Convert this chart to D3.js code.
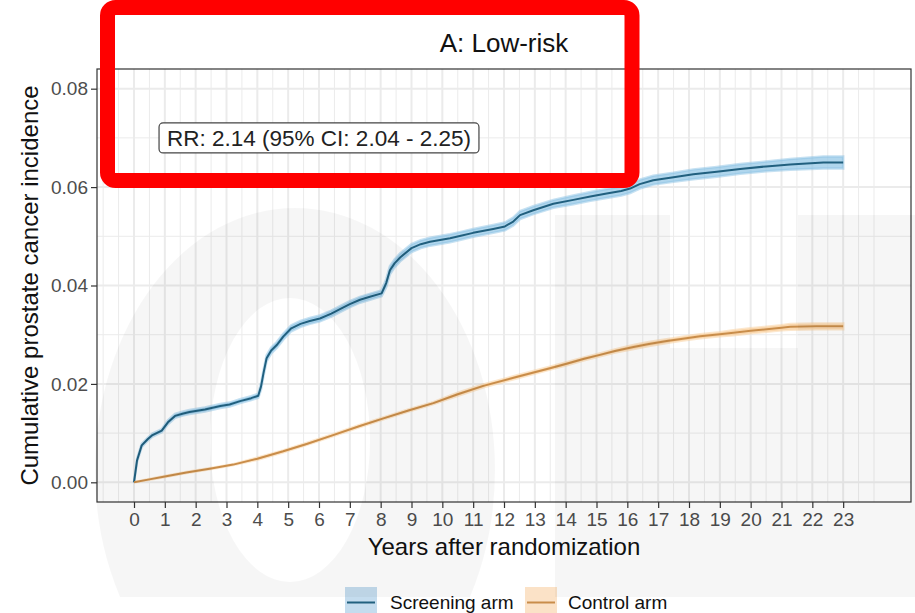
<!DOCTYPE html>
<html>
<head>
<meta charset="utf-8">
<script src="https://cdn.jsdelivr.net/npm/d3@7"></script>
<style>
  html, body { margin: 0; padding: 0; background: #fff; }
  svg text { font-family: "Liberation Sans", Arial, Helvetica, sans-serif; }
</style>
</head>
<body>
<div id="chart"></div>
<script>
// --- data ---
const screeningYears = [0, 0.1, 0.25, 0.45, 0.6, 0.9, 1.1, 1.33, 1.6, 1.8, 2.3, 2.8, 3.1, 3.44, 3.8, 4.03,
  4.12, 4.2, 4.3, 4.45, 4.63, 4.84, 5.1, 5.4, 5.7, 6.03, 6.4, 6.68, 7.0, 7.33, 7.65, 8.03,
  8.18, 8.3, 8.45, 8.63, 9.0, 9.3, 9.6, 10.25, 10.6, 11.0, 11.65, 12.03, 12.3, 12.52, 12.95, 13.6,
  14.25, 14.8, 15.33, 15.8, 16.09, 16.4, 16.84, 17.5, 18.14, 18.9, 19.66, 20.5, 21.28, 22.36, 23.0];
const screeningIncidence = [0, 0.0045, 0.0075, 0.0088, 0.0096, 0.0105, 0.0122, 0.0135, 0.0140, 0.0143, 0.0148, 0.0155, 0.0158, 0.0165, 0.0171, 0.0176,
  0.0195, 0.0222, 0.0252, 0.0268, 0.0279, 0.0296, 0.0313, 0.0322, 0.0328, 0.0333, 0.0343, 0.0352, 0.0362, 0.0371, 0.0377, 0.0384,
  0.0405, 0.0431, 0.0445, 0.0457, 0.0476, 0.0484, 0.0489, 0.0496, 0.0501, 0.0507, 0.0515, 0.0520, 0.0530, 0.0543, 0.0553, 0.0566,
  0.0574, 0.0581, 0.0587, 0.0592, 0.0597, 0.0606, 0.0614, 0.0620, 0.0626, 0.0631, 0.0637, 0.0642, 0.0646, 0.0650, 0.0650];
const screeningHalfCI = [0, 0.0003, 0.0003, 0.0003, 0.0003, 0.0003, 0.0004, 0.0004, 0.0004, 0.0004, 0.0004, 0.0004, 0.0004, 0.0004, 0.0004, 0.0004,
  0.0006, 0.0006, 0.0006, 0.0006, 0.0006, 0.0006, 0.0006, 0.0006, 0.0006, 0.0006, 0.0006, 0.0006, 0.0006, 0.0006, 0.0006, 0.0006,
  0.0008, 0.0008, 0.0008, 0.0008, 0.0008, 0.0008, 0.0008, 0.0008, 0.0008, 0.0008, 0.0008, 0.0008, 0.0008, 0.0008, 0.0008, 0.0008,
  0.0009, 0.0009, 0.0009, 0.0009, 0.0009, 0.0009, 0.0009, 0.0009, 0.0010, 0.0010, 0.0010, 0.0010, 0.0011, 0.0012, 0.0012];

const controlYears = [0, 0.5, 1.0, 1.7, 2.5, 3.22, 4.0, 4.84, 5.6, 6.46, 7.3, 8.09, 8.9, 9.71, 10.5, 11.33, 12.4, 13.49,
  14.03, 14.6, 15.11, 15.6, 16.2, 16.7, 17.28, 17.8, 18.36, 19.0, 19.44, 20.0, 20.52, 21.0, 21.28, 22.14, 23.0];
const controlIncidence = [0, 0.0006, 0.0012, 0.0020, 0.0028, 0.0036, 0.0048, 0.0063, 0.0078, 0.0096, 0.0114, 0.0130, 0.0146, 0.0161, 0.0179, 0.0196, 0.0214, 0.0232,
  0.0241, 0.0251, 0.0259, 0.0267, 0.0275, 0.0281, 0.0287, 0.0292, 0.0297, 0.0301, 0.0304, 0.0308, 0.0311, 0.0314, 0.0316, 0.0317, 0.0317];
const controlHalfCI = [0, 0.0001, 0.0001, 0.0001, 0.0001, 0.0001, 0.0002, 0.0002, 0.0002, 0.0002, 0.0002, 0.0002, 0.0002, 0.0002,
  0.0003, 0.0003, 0.0003, 0.0003, 0.0003, 0.0003, 0.0003, 0.0003, 0.0004, 0.0004, 0.0004, 0.0004, 0.0004, 0.0004,
  0.0005, 0.0005, 0.0005, 0.0005, 0.0006, 0.0006, 0.0006];

const xTickValues = d3.range(0, 24);            // 0 .. 23
const yTickValues = [0, 0.02, 0.04, 0.06, 0.08];
const yTickLabels = ['0.00', '0.02', '0.04', '0.06', '0.08'];
const seriesNames = ['Screening arm', 'Control arm'];

const titleText = 'A: Low-risk';
const rrText = 'RR: 2.14 (95% CI: 2.04 - 2.25)';
const xTitle = 'Years after randomization';
const yTitle = 'Cumulative prostate cancer incidence';

// --- layout ---
const W = 915, H = 613;
const panel = { left: 97, right: 911, top: 69, bottom: 502 };
const colors = {
  screenLine: '#21607f', screenFill: '#8ec4e6', screenKey: '#c4dcee',
  controlLine: '#c98d4a', controlFill: '#f9cf9c', controlKey: '#fbe2c7',
  grid: '#ebebeb', text: '#4d4d4d', border: '#333333'
};

const svg = d3.select('#chart').append('svg')
  .attr('width', W).attr('height', H)
  .style('display', 'block');

svg.append('rect').attr('width', W).attr('height', H).attr('fill', '#fff');

// ggplot style expanded limits
const x = d3.scaleLinear().domain([-1.2, 25.2]).range([panel.left, panel.right]);
const y = d3.scaleLinear().domain([-0.004, 0.084]).range([panel.bottom, panel.top]);

// grid
const grid = svg.append('g');
const xMinor = [-1].concat(d3.range(-0.5, 24, 1)).concat([24]);
const yMinor = [0.01, 0.03, 0.05, 0.07];
grid.selectAll('.vminor').data(xMinor).join('line')
  .attr('x1', d => x(d)).attr('x2', d => x(d))
  .attr('y1', panel.top).attr('y2', panel.bottom)
  .attr('stroke', colors.grid).attr('stroke-width', 1);
grid.selectAll('.hminor').data(yMinor).join('line')
  .attr('y1', d => y(d)).attr('y2', d => y(d))
  .attr('x1', panel.left).attr('x2', panel.right)
  .attr('stroke', colors.grid).attr('stroke-width', 1);
grid.selectAll('.vmajor').data(xTickValues).join('line')
  .attr('x1', d => x(d)).attr('x2', d => x(d))
  .attr('y1', panel.top).attr('y2', panel.bottom)
  .attr('stroke', colors.grid).attr('stroke-width', 2);
grid.selectAll('.hmajor').data(yTickValues).join('line')
  .attr('y1', d => y(d)).attr('y2', d => y(d))
  .attr('x1', panel.left).attr('x2', panel.right)
  .attr('stroke', colors.grid).attr('stroke-width', 2);

// series
function buildSeries(years, vals, half) {
  return years.map((t, i) => ({ t, v: vals[i], lo: vals[i] - half[i], hi: vals[i] + half[i] }));
}
const series = [
  { name: seriesNames[0], data: buildSeries(screeningYears, screeningIncidence, screeningHalfCI),
    line: colors.screenLine, fill: colors.screenFill, key: colors.screenKey },
  { name: seriesNames[1], data: buildSeries(controlYears, controlIncidence, controlHalfCI),
    line: colors.controlLine, fill: colors.controlFill, key: colors.controlKey }
];

const area = d3.area().x(d => x(d.t)).y0(d => y(d.lo)).y1(d => y(d.hi));
const line = d3.line().x(d => x(d.t)).y(d => y(d.v));

const marks = svg.append('g');
series.forEach(s => {
  marks.append('path').attr('d', area(s.data))
    .attr('fill', s.fill).attr('fill-opacity', 0.7)
    .attr('stroke', s.fill).attr('stroke-opacity', 0.5).attr('stroke-width', 2.5);
});
series.forEach(s => {
  marks.append('path').attr('d', line(s.data))
    .attr('fill', 'none').attr('stroke', s.line).attr('stroke-width', 2)
    .attr('stroke-linejoin', 'round');
});

// RR label (geom_label at x=6, y=0.07)
const lab = svg.append('g').attr('transform', `translate(${x(6)},${y(0.07)})`);
const labText = lab.append('text')
  .attr('text-anchor', 'middle').attr('dy', '0.36em')
  .attr('font-size', 22.5).attr('fill', '#222')
  .text(rrText);
const bb = labText.node().getBBox();
lab.insert('rect', 'text')
  .attr('x', bb.x - 8).attr('y', -15).attr('width', bb.width + 16).attr('height', 30)
  .attr('rx', 4).attr('fill', '#fff').attr('stroke', '#444').attr('stroke-width', 1.2);

// panel border
svg.append('rect')
  .attr('x', panel.left).attr('y', panel.top)
  .attr('width', panel.right - panel.left).attr('height', panel.bottom - panel.top)
  .attr('fill', 'none').attr('stroke', colors.border).attr('stroke-width', 1.2);

// axes
const xAxis = svg.append('g')
  .attr('transform', `translate(0,${panel.bottom})`)
  .call(d3.axisBottom(x).tickValues(xTickValues).tickSize(6).tickPadding(5).tickFormat(d3.format('d')));
const yAxis = svg.append('g')
  .attr('transform', `translate(${panel.left},0)`)
  .call(d3.axisLeft(y).tickValues(yTickValues).tickSize(6).tickPadding(3)
    .tickFormat((d, i) => yTickLabels[i]));
[xAxis, yAxis].forEach(a => {
  a.select('.domain').remove();
  a.selectAll('.tick line').attr('stroke', colors.border).attr('stroke-width', 1.2);
  a.selectAll('.tick text').attr('fill', colors.text).attr('font-size', 19)
    .style('font-family', '"Liberation Sans", Arial, sans-serif');
});

// titles
svg.append('text')
  .attr('x', (panel.left + panel.right) / 2).attr('y', 52)
  .attr('text-anchor', 'middle').attr('font-size', 26).attr('fill', '#111')
  .text(titleText);
svg.append('text')
  .attr('x', (panel.left + panel.right) / 2).attr('y', 555)
  .attr('text-anchor', 'middle').attr('font-size', 24).attr('fill', '#111')
  .text(xTitle);
svg.append('text')
  .attr('transform', `translate(38,${(panel.top + panel.bottom) / 2}) rotate(-90)`)
  .attr('text-anchor', 'middle').attr('font-size', 24).attr('fill', '#111')
  .text(yTitle);

// legend
const legendItems = [
  { s: series[0], keyX: 345, textX: 390 },
  { s: series[1], keyX: 525, textX: 568 }
];
const legend = svg.append('g');
legendItems.forEach(it => {
  legend.append('rect')
    .attr('x', it.keyX).attr('y', 587).attr('width', 32).attr('height', 32)
    .attr('fill', it.s.key);
  legend.append('line')
    .attr('x1', it.keyX + 2).attr('x2', it.keyX + 30)
    .attr('y1', 602.5).attr('y2', 602.5)
    .attr('stroke', it.s.line).attr('stroke-width', 2);
  legend.append('text')
    .attr('x', it.textX).attr('y', 609)
    .attr('font-size', 19).attr('fill', '#111')
    .text(it.s.name);
});

// faint watermark shapes over the image
const wm = svg.append('g').attr('fill', '#000').attr('fill-opacity', 0.035);
svg.append('clipPath').attr('id', 'wmclip')
  .append('rect').attr('x', 0).attr('y', 0).attr('width', W).attr('height', 597);
function ellipsePath(cx, cy, rx, ry) {
  return `M${cx - rx},${cy} a${rx},${ry} 0 1,0 ${2 * rx},0 a${rx},${ry} 0 1,0 ${-2 * rx},0 Z`;
}
wm.append('path')
  .attr('clip-path', 'url(#wmclip)')
  .attr('fill-rule', 'evenodd')
  .attr('d', ellipsePath(295, 470, 200, 262) + ellipsePath(290, 440, 80, 142));
wm.append('path')
  .attr('d', 'M555,215 L670,215 L670,348 L798,348 L798,215 L915,215 L915,597 L555,597 Z');

// red annotation frame
svg.append('rect')
  .attr('x', 107.5).attr('y', 7.5).attr('width', 524.5).attr('height', 173)
  .attr('rx', 8)
  .attr('fill', 'none').attr('stroke', '#ff0000').attr('stroke-width', 15);
</script>
</body>
</html>
